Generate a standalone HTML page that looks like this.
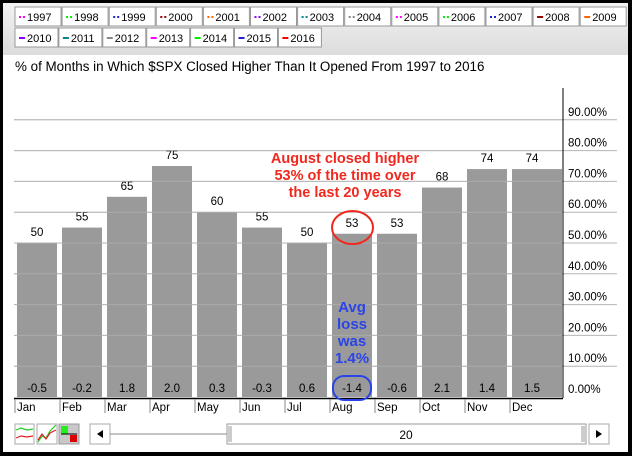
<!DOCTYPE html>
<html><head><meta charset="utf-8"><style>
body{margin:0;background:#fff;}
#wrap{position:relative;width:632px;height:456px;overflow:hidden;font-family:"Liberation Sans",Arial,sans-serif;}
svg text{font-family:"Liberation Sans",Arial,sans-serif;}
</style></head><body>
<div id="wrap">
<svg id="svg" width="632" height="456" xmlns="http://www.w3.org/2000/svg">
<defs><linearGradient id="pg" x1="0" y1="0" x2="0" y2="1"><stop offset="0" stop-color="#f2f2f2"/><stop offset="1" stop-color="#dcdcdc"/></linearGradient></defs>
<rect x="0" y="0" width="632" height="456" fill="#000"/>
<rect x="3" y="3" width="625" height="449" fill="#fff"/>
<rect x="3" y="3" width="625" height="52" fill="url(#pg)"/>
<g id="legend"></g>
<text x="15" y="71" font-size="13.4" fill="#000">% of Months in Which $SPX Closed Higher Than It Opened From 1997 to 2016</text>
<g id="grid"></g>
<g id="bars"></g>
<g id="axis"></g>
<g>
<text x="345" y="163" font-size="14.5" font-weight="bold" fill="#f0281e" text-anchor="middle">August closed higher</text>
<text x="345" y="180" font-size="14.5" font-weight="bold" fill="#f0281e" text-anchor="middle">53% of the time over</text>
<text x="345" y="197" font-size="14.5" font-weight="bold" fill="#f0281e" text-anchor="middle">the last 20 years</text>
<ellipse cx="352.5" cy="227.5" rx="20.5" ry="16.5" fill="none" stroke="#f0281e" stroke-width="2"/>
</g>
<g>
<text x="352" y="312" font-size="15" font-weight="bold" fill="#2a44e8" text-anchor="middle">Avg</text>
<text x="352" y="329" font-size="15" font-weight="bold" fill="#2a44e8" text-anchor="middle">loss</text>
<text x="352" y="346" font-size="15" font-weight="bold" fill="#2a44e8" text-anchor="middle">was</text>
<text x="352" y="363" font-size="15" font-weight="bold" fill="#2a44e8" text-anchor="middle">1.4%</text>
<rect x="333" y="376" width="38" height="24" rx="11" fill="none" stroke="#2a44e8" stroke-width="2"/>
</g>
<g>
<g><rect x="15" y="424" width="19" height="20" fill="#fff" stroke="#aaa"/><polyline points="16,430 21,428 27,430 33,429" fill="none" stroke="#2c2" stroke-width="1.2"/><polyline points="16,438 21,436 27,437 33,436" fill="none" stroke="#d22" stroke-width="1.2"/></g>
<g><rect x="37" y="424" width="20" height="20" fill="#fff" stroke="#aaa"/><polyline points="38,442 42,436 46,438 50,431 56,425" fill="none" stroke="#2c2" stroke-width="1.2"/><polyline points="38,440 42,434 46,439 50,433 56,430" fill="none" stroke="#d22" stroke-width="1.2"/></g>
<g><rect x="59" y="424" width="20" height="20" fill="#c8c8c8" stroke="#999"/><rect x="61" y="426" width="7" height="8" fill="#2e2"/><line x1="61" y1="434" x2="77" y2="434" stroke="#000"/><rect x="70" y="435" width="7" height="7" fill="#d00"/></g>
<rect x="90" y="424" width="20" height="20" fill="#fff" stroke="#aaa"/>
<polygon points="97,434 103,430 103,438" fill="#000"/>
<line x1="110" y1="434" x2="227" y2="434" stroke="#888"/>
<rect x="227" y="424" width="359" height="20" fill="#fff" stroke="#999"/>
<line x1="229" y1="426" x2="229" y2="442" stroke="#999"/><line x1="231" y1="426" x2="231" y2="442" stroke="#999"/>
<line x1="582" y1="426" x2="582" y2="442" stroke="#999"/><line x1="584" y1="426" x2="584" y2="442" stroke="#999"/>
<text x="406" y="439" font-size="12" text-anchor="middle" fill="#000">20</text>
<rect x="589" y="424" width="20" height="20" fill="#fff" stroke="#aaa"/>
<polygon points="602,434 596,430 596,438" fill="#000"/>
</g>
</svg>
</div>
<script>
const months = ["Jan","Feb","Mar","Apr","May","Jun","Jul","Aug","Sep","Oct","Nov","Dec"];
const pctHigher = [50,55,65,75,60,55,50,53,53,68,74,74];
const avgChange = ["-0.5","-0.2","1.8","2.0","0.3","-0.3","0.6","-1.4","-0.6","2.1","1.4","1.5"];
const yTicks = [0,10,20,30,40,50,60,70,80,90];
const yTickLabels = ["0.00%","10.00%","20.00%","30.00%","40.00%","50.00%","60.00%","70.00%","80.00%","90.00%"];
const legendYears = ["1997","1998","1999","2000","2001","2002","2003","2004","2005","2006","2007","2008","2009","2010","2011","2012","2013","2014","2015","2016"];
const legendColors = ["#f0f","#0e0","#22c","#900","#f60","#80f","#088","#888","#f0f","#0e0","#22c","#900","#f60","#80f","#088","#888","#f0f","#0e0","#22c","#f00"];

const NS="http://www.w3.org/2000/svg";
function mk(tag,attrs,parent){const e=document.createElementNS(NS,tag);for(const k in attrs)e.setAttribute(k,attrs[k]);parent.appendChild(e);return e;}
const y0=397, pxPer=3.08;
function yScale(v){return y0-v*pxPer;}
function xScale(i){return 17+i*45;}
const plotL=14, axisX=563;

// legend
const lg=document.getElementById('legend');
legendYears.forEach((yr,i)=>{
  const row=i<13?0:1, col=i<13?i:i-13;
  const pitch=row?43.9:47.1, bw=row?43:46;
  const x=15+col*pitch, y=row?28:7;
  const g=mk('g',{},lg);
  
  
  mk('rect',{x:x,y:y,width:bw,height:19,fill:'#fff',stroke:'#999'},g);
  mk('line',{x1:x+4,y1:y+10,x2:x+10,y2:y+10,stroke:legendColors[i],'stroke-width':2,'stroke-dasharray':i<11?'2,2':'none'},g);
  const t=mk('text',{x:x+12,y:y+14,'font-size':11,fill:'#000'},g);t.textContent=yr;
});

// grid
const gr=document.getElementById('grid');
yTicks.forEach((v,i)=>{
  if(v>0){const l=mk('line',{x1:plotL,y1:yScale(v),x2:617,y2:yScale(v),stroke:'#b4b4b4'},gr);
  
  }
});
// bars
const bg=document.getElementById('bars');
months.forEach((m,i)=>{
  const x=xScale(i), w=i===11?axisX-x-1:40, v=pctHigher[i];
  const r=mk('rect',{x:x,y:yScale(v),width:w,height:y0-yScale(v),fill:'#9a9a9a'},bg);
  
  
  const t=mk('text',{x:x+20,y:yScale(v)-7,'font-size':11.5,'text-anchor':'middle',fill:'#000'},bg);
  
  
  t.textContent=v;
  const a=mk('text',{x:x+20,y:392,'font-size':11.5,'text-anchor':'middle',fill:'#000'},bg);
  
  
  a.textContent=avgChange[i];
});
yTicks.forEach(v=>{if(v>0){mk('line',{x1:plotL,y1:yScale(v),x2:axisX,y2:yScale(v),stroke:'#b8b8b8','stroke-opacity':0.6},bg);}});
// axes
const ax=document.getElementById('axis');
const va=mk('line',{x1:axisX,y1:88,x2:axisX,y2:y0+1,stroke:'#000'},ax);


const ha=mk('line',{x1:plotL,y1:y0+1.5,x2:axisX,y2:y0+1.5,stroke:'#000','stroke-width':1.5},ax);


yTicks.forEach((v,i)=>{
  const t=mk('text',{x:568,y:yScale(v)-4,'font-size':11.5,fill:'#000'},ax);
  
  
  t.textContent=yTickLabels[i];
});
months.forEach((m,i)=>{
  const x=xScale(i)-2;
  mk('line',{x1:x,y1:y0+2,x2:x,y2:y0+16,stroke:'#888'},ax);
  const t=mk('text',{x:x+2,y:411,'font-size':11.5,fill:'#000'},ax);
  
  
  t.textContent=m;
});
</script>
</body></html>
